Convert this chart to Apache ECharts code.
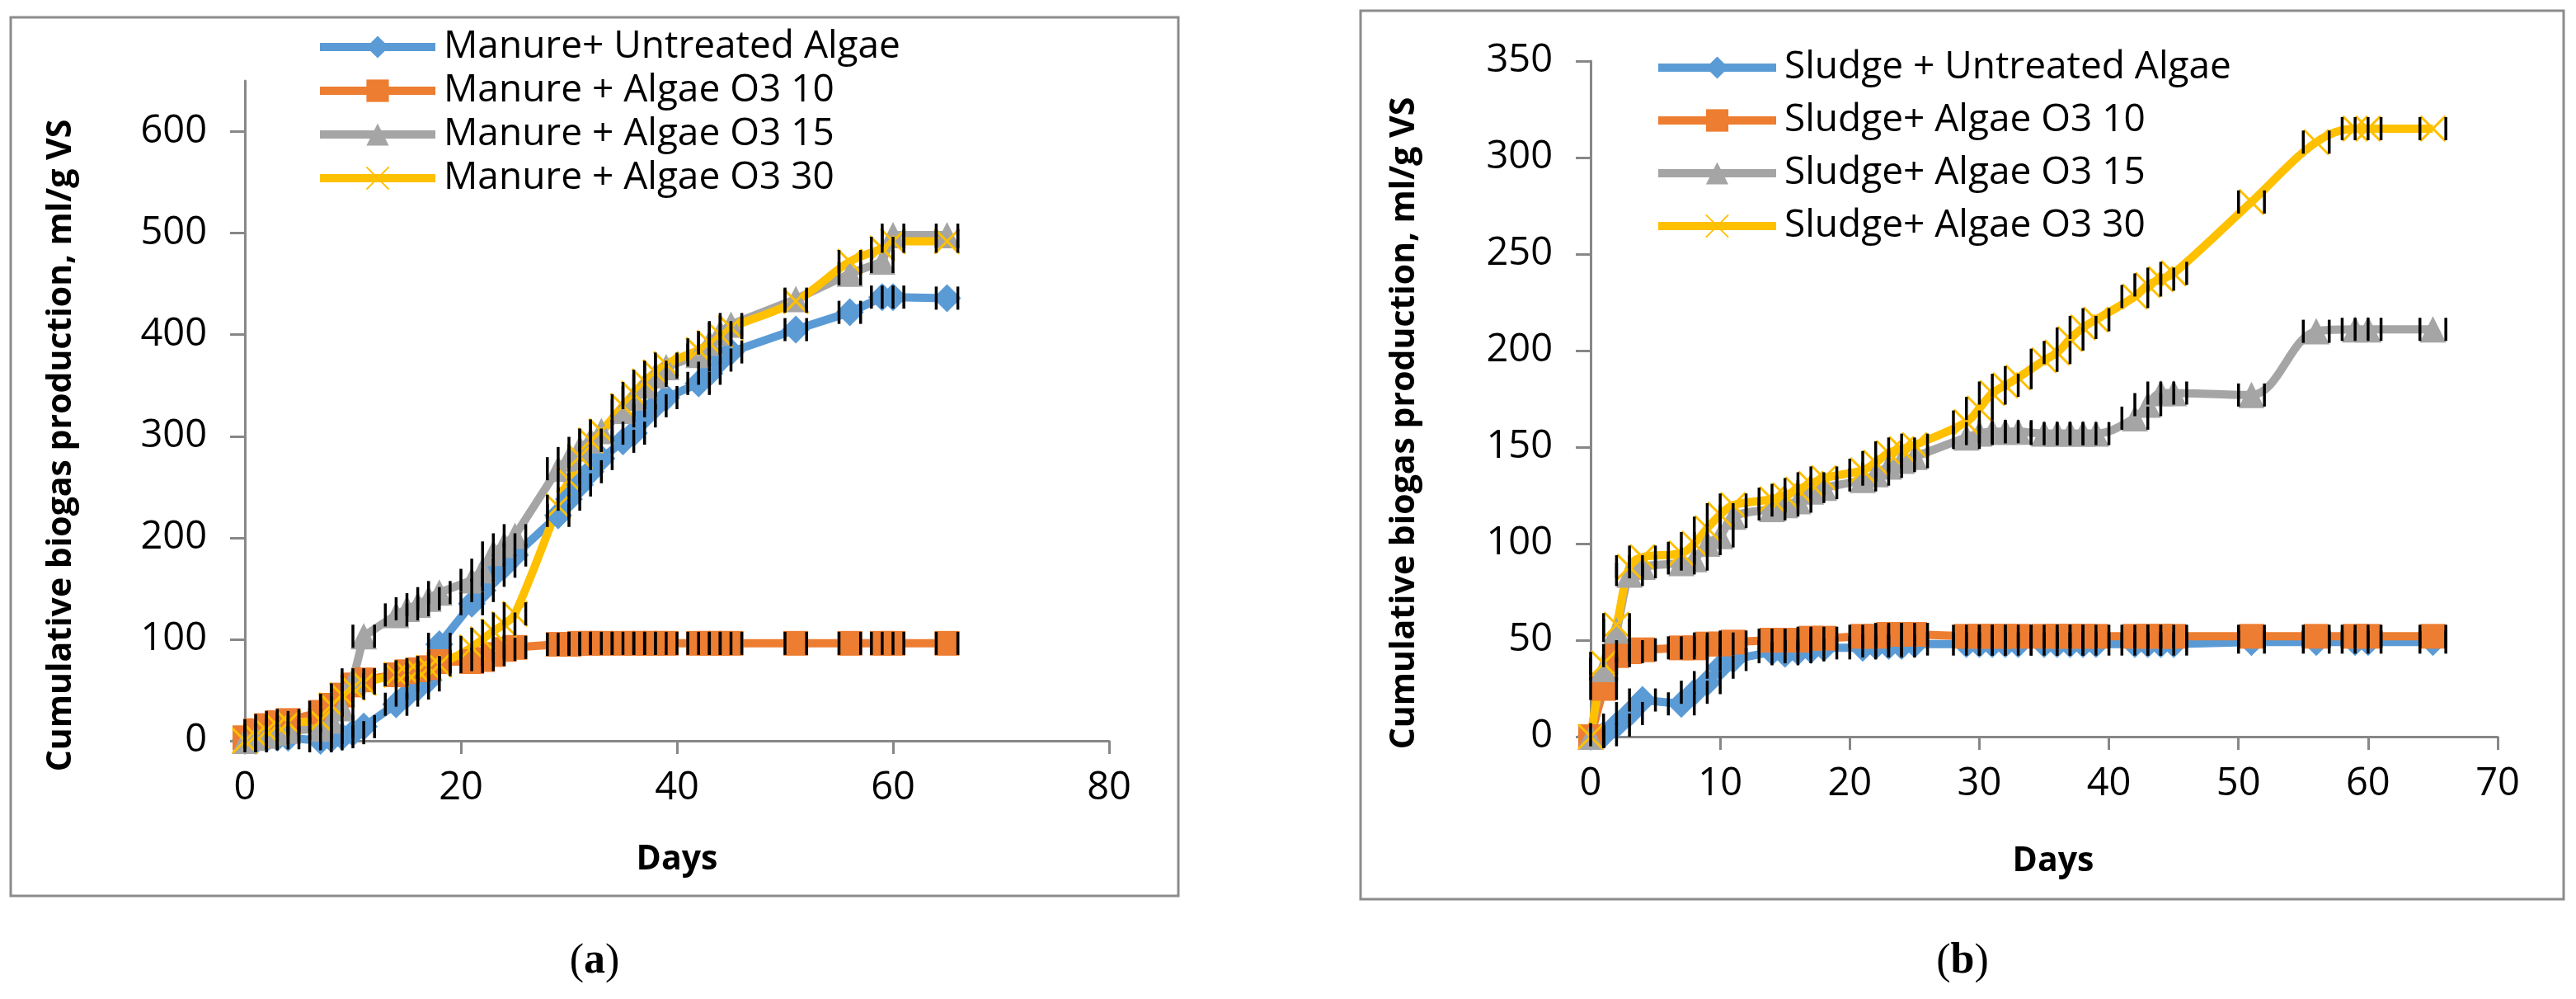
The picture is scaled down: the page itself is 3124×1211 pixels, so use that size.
<!DOCTYPE html>
<html>
<head>
<meta charset="utf-8">
<script src="https://cdn.jsdelivr.net/npm/echarts@6/dist/echarts.min.js"></script>
<style>
  html, body { margin: 0; padding: 0; background: #fff; }
  #chart { width: 3124px; height: 1211px; }
</style>
</head>
<body>
<div id="chart"></div>
<script>
// sampling days (same for both panels)
const days = [0, 1, 2, 3, 4, 7, 8, 9, 10, 11, 14, 15, 16, 17, 18, 21, 22, 23, 24, 25,
  29, 30, 31, 32, 33, 35, 36, 37, 38, 39, 42, 43, 44, 45, 51, 56, 59, 60, 65];

// (a) manure
const manureNames = ['Manure+ Untreated Algae', 'Manure + Algae O3 10', 'Manure + Algae O3 15', 'Manure + Algae O3 30'];
const manureUntreated = [0, 0, 2, 3, 3, 0, 2, 4, 8, 14, 36, 45, 52, 60, 95, 135, 148, 163, 172, 183,
  222, 238, 252, 265, 278, 295, 303, 320, 330, 338, 352, 362, 375, 383, 405, 422, 437, 437, 436];
const manureO310 = [3, 10, 15, 18, 20, 28, 35, 45, 55, 60, 65, 68, 70, 72, 78, 78, 80, 85, 90, 92,
  95, 95, 96, 96, 96, 96, 96, 96, 96, 96, 96, 96, 96, 96, 96, 96, 96, 96, 96];
const manureO315 = [0, 3, 5, 8, 10, 12, 20, 32, 60, 103, 124, 130, 134, 140, 146, 158, 168, 185, 193, 202,
  268, 278, 288, 296, 305, 325, 338, 350, 360, 368, 380, 392, 402, 410, 435, 460, 472, 498, 498];
const manureO330 = [0, 5, 10, 15, 18, 20, 35, 45, 52, 57, 65, 67, 69, 72, 75, 92, 100, 108, 115, 125,
  231, 257, 280, 296, 305, 330, 342, 354, 363, 371, 385, 392, 400, 407, 433, 472, 485, 492, 492];

// (b) sludge
const sludgeNames = ['Sludge + Untreated Algae', 'Sludge+ Algae O3 10', 'Sludge+ Algae O3 15', 'Sludge+ Algae O3 30'];
const sludgeUntreated = [0, 1, 6, 12, 19, 17, 23, 28, 36, 40, 44, 43, 44, 45, 46, 46, 47, 47, 47, 48,
  48, 48, 48, 48, 48, 48, 48, 48, 48, 48, 48, 48, 48, 48, 49, 49, 49, 49, 49];
const sludgeO310 = [0, 25, 42, 44, 45, 46, 46, 48, 48, 49, 50, 50, 50, 51, 51, 52, 52, 53, 53, 53,
  52, 52, 52, 52, 52, 52, 52, 52, 52, 52, 52, 52, 52, 52, 52, 52, 52, 52, 52];
const sludgeO315 = [0, 35, 55, 84, 88, 90, 92, 100, 104, 114, 118, 120, 122, 127, 129, 133, 136, 140, 143, 145,
  155, 157, 158, 158, 158, 157, 157, 157, 157, 157, 165, 172, 178, 178, 177, 210, 211, 211, 211];
const sludgeO330 = [0, 38, 58, 88, 93, 95, 100, 108, 115, 120, 123, 125, 128, 131, 134, 138, 142, 147, 149, 151,
  163, 170, 178, 182, 186, 195, 199, 206, 212, 216, 228, 234, 237, 240, 277, 308, 315, 315, 315];

// x error (days) shown as capped bars either side of each point
const xErr = 1;

const yTicksA = [0, 100, 200, 300, 400, 500, 600];

const FONT = '"Open Sans", sans-serif';
const AXIS_GREY = '#878787';

const styles = [
  { color: '#5B9BD5', symbol: 'diamond', size: 34 },
  { color: '#ED7D31', symbol: 'rect', size: 30 },
  { color: '#A5A5A5', symbol: 'triangle', size: 32 },
  { color: '#FFC000', symbol: 'path://M0,0L10,10M10,0L0,10', size: 30 },
];

function lineSeries(name, values, idx, grid, smooth) {
  const s = styles[idx];
  const isCross = idx === 3;
  return {
    name,
    type: 'line',
    xAxisIndex: grid,
    yAxisIndex: grid,
    data: values.map((v, i) => [days[i], v]),
    symbol: s.symbol,
    symbolSize: s.size,
    showAllSymbol: true,
    smooth: smooth ? 0.35 : false,
    lineStyle: { color: s.color, width: 10 },
    itemStyle: isCross
      ? { color: s.color, borderColor: s.color, borderWidth: 3 }
      : { color: s.color, borderWidth: 0 },
    z: 2,
  };
}

function errorBars(valueSets, grid, xMax) {
  const pts = [];
  valueSets.forEach(vals => vals.forEach((v, i) => pts.push([days[i], v])));
  return {
    type: 'custom',
    xAxisIndex: grid,
    yAxisIndex: grid,
    silent: true,
    z: 3,
    data: pts,
    renderItem(params, api) {
      const d = api.value(0);
      const v = api.value(1);
      const children = [];
      [d - xErr, d + xErr].forEach(x => {
        if (x < 0 || x > xMax) return;
        const p = api.coord([x, v]);
        children.push({
          type: 'line',
          shape: { x1: p[0], y1: p[1] - 14, x2: p[0], y2: p[1] + 14 },
          style: { stroke: '#000', lineWidth: 3.5 },
        });
      });
      return { type: 'group', children };
    },
  };
}

function xAxis(grid, max, interval) {
  return {
    type: 'value', gridIndex: grid, min: 0, max, interval,
    axisLine: { lineStyle: { color: AXIS_GREY, width: 3 } },
    axisTick: { length: 16, lineStyle: { color: AXIS_GREY, width: 3 } },
    axisLabel: { margin: 34, fontSize: 47, fontFamily: FONT, color: '#000' },
    splitLine: { show: false },
  };
}

function yAxis(grid, max, interval, ticks) {
  const ax = {
    type: 'value', gridIndex: grid, min: 0, max, interval,
    axisLine: { show: true, lineStyle: { color: AXIS_GREY, width: 3 } },
    axisTick: { show: true, length: 18, lineStyle: { color: AXIS_GREY, width: 3 } },
    axisLabel: { margin: 46, fontSize: 47, fontFamily: FONT, color: '#000' },
    splitLine: { show: false },
  };
  if (ticks) {
    ax.axisLabel.customValues = ticks;
    ax.axisTick.customValues = ticks;
  }
  return ax;
}

function legend(names, left, top, width, gap) {
  return {
    data: names,
    orient: 'vertical',
    left, top,
    itemWidth: width,
    itemHeight: 34,
    itemGap: gap,
    selectedMode: false,
    lineStyle: { width: 10 },
    textStyle: { fontSize: 46, fontFamily: FONT, color: '#000', padding: [0, 0, 0, 5] },
  };
}

function label(text, x, y, rotate) {
  return {
    type: 'text', x, y, rotation: rotate ? Math.PI / 2 : 0, silent: true,
    style: {
      text, fill: '#000', align: 'center', verticalAlign: 'middle',
      font: 'bold 41px ' + FONT,
    },
  };
}

function caption(letter, x, y) {
  return {
    type: 'text', x, y, silent: true,
    style: {
      text: '{n|(}{b|' + letter + '}{n|)}',
      align: 'center', verticalAlign: 'middle',
      rich: {
        n: { fontSize: 52, fontFamily: '"Liberation Serif", serif', color: '#000' },
        b: { fontSize: 52, fontFamily: '"Liberation Serif", serif', fontWeight: 'bold', color: '#000' },
      },
    },
  };
}

const chart = echarts.init(document.getElementById('chart'));

chart.setOption({
  animation: false,
  backgroundColor: '#fff',
  grid: [
    { left: 297, top: 98, width: 1048, height: 800, outerBoundsMode: 'none' },
    { left: 1929, top: 74, width: 1100, height: 819, outerBoundsMode: 'none' },
  ],
  xAxis: [xAxis(0, 80, 20), xAxis(1, 70, 10)],
  yAxis: [yAxis(0, 650, 100, yTicksA), yAxis(1, 350, 50)],
  legend: [
    legend(manureNames, 378, 29, 140, 7),
    legend(sludgeNames, 2001, 54, 143, 18),
  ],
  graphic: [
    { type: 'rect', silent: true, z: -10, shape: { x: 13, y: 21, width: 1416, height: 1065 },
      style: { fill: 'none', stroke: '#8C8C8C', lineWidth: 3 } },
    { type: 'rect', silent: true, z: -10, shape: { x: 1650, y: 13, width: 1459, height: 1077 },
      style: { fill: 'none', stroke: '#8C8C8C', lineWidth: 3 } },
    label('Cumulative biogas production, ml/g VS', 74, 540, true),
    label('Cumulative biogas production, ml/g VS', 1703, 513, true),
    label('Days', 821, 1042, false),
    label('Days', 2490, 1044, false),
    caption('a', 721, 1166),
    caption('b', 2380, 1166),
  ],
  series: [
    lineSeries(manureNames[0], manureUntreated, 0, 0, false),
    lineSeries(manureNames[1], manureO310, 1, 0, false),
    lineSeries(manureNames[2], manureO315, 2, 0, false),
    lineSeries(manureNames[3], manureO330, 3, 0, true),
    errorBars([manureUntreated, manureO310, manureO315, manureO330], 0, 80),
    lineSeries(sludgeNames[0], sludgeUntreated, 0, 1, false),
    lineSeries(sludgeNames[1], sludgeO310, 1, 1, false),
    lineSeries(sludgeNames[2], sludgeO315, 2, 1, true),
    lineSeries(sludgeNames[3], sludgeO330, 3, 1, true),
    errorBars([sludgeUntreated, sludgeO310, sludgeO315, sludgeO330], 1, 70),
  ],
});
</script>
</body>
</html>
